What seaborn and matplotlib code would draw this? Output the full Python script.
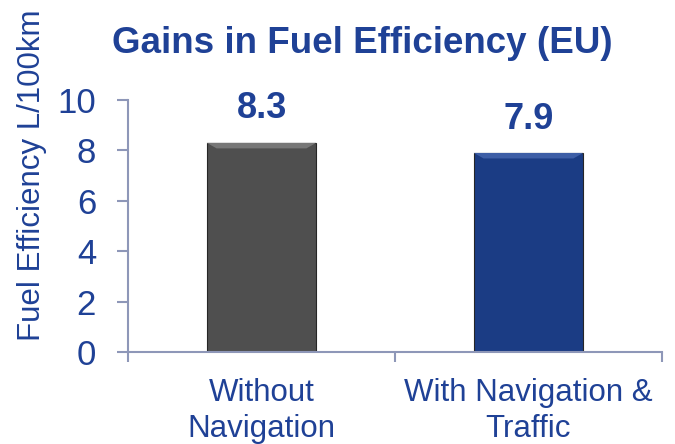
import matplotlib
matplotlib.use("Agg")
import matplotlib.pyplot as plt
import seaborn as sns
import pandas as pd
from matplotlib.ticker import FixedLocator
from matplotlib.patches import Polygon

categories = ["Without\nNavigation", "With Navigation &\nTraffic"]
values = [8.3, 7.9]
value_labels = ["8.3", "7.9"]
colors = ["#4f4f4f", "#1b3c84"]
highlight = ["#777777", "#3d5ea6"]

sns.set_theme(style="white")
plt.rcParams['font.family'] = ['Liberation Sans', 'DejaVu Sans']

text_color = "#1f4196"
spine_color = "#8e97b8"

df = pd.DataFrame({"cat": categories, "val": values})
fig = plt.figure(figsize=(6.75, 4.44), dpi=100)
ax = fig.add_axes([128/675, 1-352/444, 534/675, 252/444])
sns.barplot(data=df, x="cat", y="val", hue="cat", palette=colors, legend=False,
            width=0.41, ax=ax, edgecolor="#262626", linewidth=0.8, saturation=1)

# subtle bevel highlight at top of each bar
for p, hc in zip(ax.patches, highlight):
    x0, y0 = p.get_x(), p.get_y()
    w, h = p.get_width(), p.get_height()
    top = y0 + h
    dx, dy = w * 0.09, 0.22
    poly = Polygon([[x0, top], [x0 + w, top], [x0 + w - dx, top - dy], [x0 + dx, top - dy]],
                   closed=True, facecolor=hc, edgecolor="none", zorder=p.get_zorder() + 0.1)
    ax.add_patch(poly)

ax.set_xlim(-0.5, 1.5)
ax.set_ylim(0, 10)
ax.set_yticks([0, 2, 4, 6, 8, 10])
ax.tick_params(axis='y', labelsize=25, labelcolor=text_color, color=spine_color,
               direction='out', length=8, width=1.5, pad=15, left=True)
ax.tick_params(axis='x', which='major', length=0, labelsize=22.5, labelcolor=text_color, pad=19)
ax.xaxis.set_minor_locator(FixedLocator([-0.5, 0.5, 1.5]))
ax.tick_params(axis='x', which='minor', bottom=True, direction='out', length=7,
               width=1.5, color=spine_color)
ax.set_xlabel("")
ax.set_ylabel("")
for lab in ax.get_xticklabels():
    lab.set_linespacing(1.25)
for s in ["top", "right"]:
    ax.spines[s].set_visible(False)
for s in ["left", "bottom"]:
    ax.spines[s].set_color(spine_color)
    ax.spines[s].set_linewidth(1.5)

fig.text(32/675, 1-175/444, "Fuel Efficiency L/100km", rotation=90, ha="center", va="center",
         fontsize=22.5, color=text_color)

for i, (v, lab) in enumerate(zip(values, value_labels)):
    ax.text(i, v + 0.65, lab, ha="center", va="bottom", fontsize=26, fontweight="bold",
            color=text_color)

fig.text(362/675, 1-53/444, "Gains in Fuel Efficiency (EU)", ha="center", va="baseline",
         fontsize=26.5, fontweight="bold", color=text_color)

fig.savefig("out.png", dpi=100)
